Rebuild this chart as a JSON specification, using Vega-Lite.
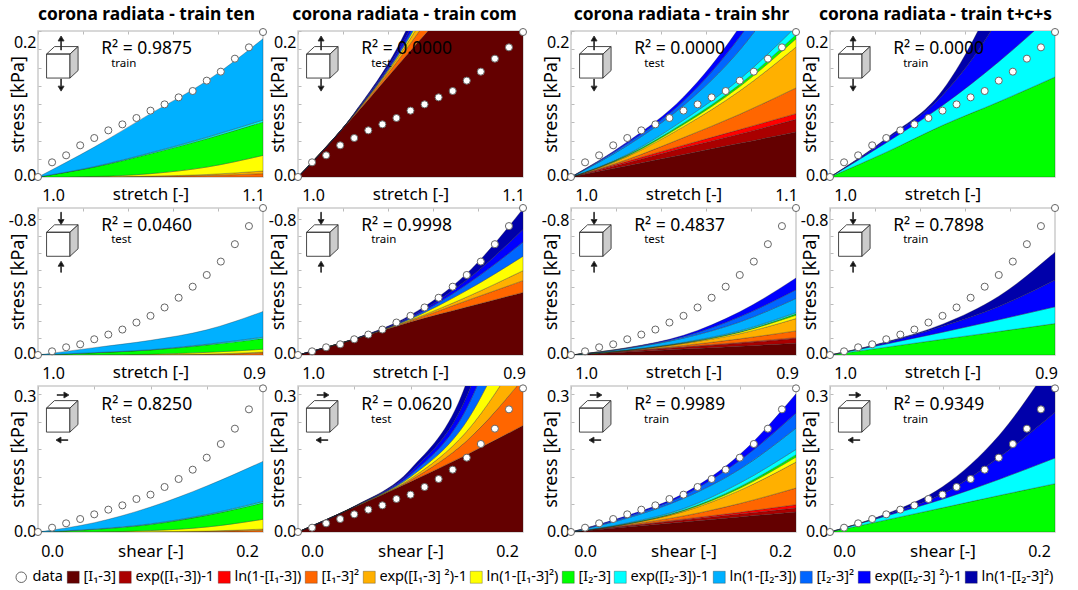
{"$schema":"https://vega.github.io/schema/vega-lite/v6.json","padding":{"left":7,"top":5,"right":0,"bottom":0},"background":"white","bounds":"flush","columns":7,"spacing":{"row":31,"column":0},
"config":{"font":"Noto Sans","view":{"stroke":"#cccccc","strokeWidth":1.5},"title":{"fontSize":17.4,"fontWeight":"bold","offset":3,"color":"black"},
"axis":{"grid":false,"domain":false,"tickCount":30,"labelFontSize":16,"titleFontWeight":"normal","labelColor":"black","titleColor":"black","tickColor":"#bbbbbb","labelOverlap":false,"labelFlush":false,"labelBound":false},
"axisX":{"ticks":false,"labelPadding":10,"titleFontSize":17,"titleY":17,"titleBaseline":"middle"},"axisY":{"tickSize":-3,"labelPadding":5,"titleFontSize":18,"titleX":-11},
"area":{"interpolate":"monotone","stroke":"#222222","strokeWidth":0.5,"strokeOpacity":0.6},"point":{"filled":true,"fill":"white","size":50,"strokeWidth":1,"opacity":1},
"style":{"r2":{"fontSize":17.5,"align":"left","baseline":"middle"},"sub":{"fontSize":11.5,"align":"left","baseline":"middle"}},
"range":{"ordinal":["#640000","#aa0000","#ff0000","#ff6600","#ffb000","#ffff00","#00ff00","#00ffff","#00b0ff","#0066ff","#0000ff","#0000aa"],"category":["#ffffff","#111111","#111111","#cccccc","#111111"],
"symbol":["M-0.47,-0.364L0.24,-0.364L0.24,0.364L-0.47,0.364ZM-0.47,-0.364L-0.227,-0.59L0.485,-0.59L0.24,-0.364Z","M-0.03,-0.6L0.06,-0.75L-0.02,-0.75L-0.02,-0.97L-0.04,-0.97L-0.04,-0.75L-0.12,-0.75ZM-0.03,0.515L0.06,0.665L-0.02,0.665L-0.02,0.85L-0.04,0.85L-0.04,0.665L-0.12,0.665Z","M0.21,-0.76L0.06,-0.85L0.06,-0.77L-0.15,-0.77L-0.15,-0.75L0.06,-0.75L0.06,-0.67ZM-0.18,0.606L-0.03,0.516L-0.03,0.596L0.18,0.596L0.18,0.616L-0.03,0.616L-0.03,0.696Z","M0.24,-0.364L0.485,-0.59L0.485,0.136L0.24,0.364Z","M-0.03,-0.91L0.06,-0.76L-0.02,-0.76L-0.02,-0.485L-0.04,-0.485L-0.04,-0.76L-0.12,-0.76ZM-0.03,0.76L0.06,0.61L-0.02,0.61L-0.02,0.394L-0.04,0.394L-0.04,0.61L-0.12,0.61Z"]}},
"datasets":{
"ten":[{"x":1,"y":0},{"x":1.00625,"y":0.0201},{"x":1.0125,"y":0.0297},{"x":1.01875,"y":0.0434},{"x":1.025,"y":0.0534},{"x":1.03125,"y":0.0639},{"x":1.0375,"y":0.0721},{"x":1.04375,"y":0.0808},{"x":1.05,"y":0.0909},{"x":1.05625,"y":0.0995},{"x":1.0625,"y":0.1091},{"x":1.06875,"y":0.1178},{"x":1.075,"y":0.132},{"x":1.08125,"y":0.1443},{"x":1.0875,"y":0.1621},{"x":1.09375,"y":0.1776},{"x":1.1,"y":0.1986}],
"com":[{"x":1,"y":0},{"x":0.99375,"y":-0.0217},{"x":0.9875,"y":-0.0454},{"x":0.98125,"y":-0.0632},{"x":0.975,"y":-0.0928},{"x":0.96875,"y":-0.1205},{"x":0.9625,"y":-0.1501},{"x":0.95625,"y":-0.1916},{"x":0.95,"y":-0.2311},{"x":0.94375,"y":-0.2805},{"x":0.9375,"y":-0.3378},{"x":0.93125,"y":-0.403},{"x":0.925,"y":-0.4721},{"x":0.91875,"y":-0.5511},{"x":0.9125,"y":-0.6538},{"x":0.90625,"y":-0.7605},{"x":0.9,"y":-0.8672}],
"shr":[{"x":0,"y":0},{"x":0.0125,"y":0.0094},{"x":0.025,"y":0.0189},{"x":0.0375,"y":0.0283},{"x":0.05,"y":0.0385},{"x":0.0625,"y":0.0487},{"x":0.075,"y":0.0581},{"x":0.0875,"y":0.0719},{"x":0.1,"y":0.0814},{"x":0.1125,"y":0.0981},{"x":0.125,"y":0.1155},{"x":0.1375,"y":0.1358},{"x":0.15,"y":0.162},{"x":0.1625,"y":0.1918},{"x":0.175,"y":0.2252},{"x":0.1875,"y":0.2673},{"x":0.2,"y":0.3131}],
"p11":[{"x":1,"T04":0,"T05":0,"T06":0,"T07":0,"T08":0,"T09":0},{"x":1.025,"T04":0.0002,"T05":0,"T06":0.0006,"T07":0.0128,"T08":0.0006,"T09":0.0268},{"x":1.05,"T04":0.0008,"T05":0.0004,"T06":0.0034,"T07":0.0274,"T08":0.0012,"T09":0.0536},{"x":1.075,"T04":0.002,"T05":0.0014,"T06":0.0102,"T07":0.0388,"T08":0.002,"T09":0.0772},{"x":1.1,"T04":0.0046,"T05":0.0036,"T06":0.0214,"T07":0.0458,"T08":0.0026,"T09":0.1114}],
"p12":[{"x":1,"T01":0,"T04":0,"T05":0,"T06":0,"T10":0,"T11":0,"T12":0},{"x":1.025,"T01":0.084,"T04":0.001,"T05":0.0006,"T06":0.0004,"T10":0.0004,"T11":0.0004,"T12":0.0008},{"x":1.05,"T01":0.173,"T04":0.01,"T05":0.007,"T06":0.004,"T10":0.004,"T11":0.006,"T12":0.01},{"x":1.075,"T01":0.26,"T04":0.04,"T05":0.03,"T06":0.02,"T10":0.02,"T11":0.024,"T12":0.04},{"x":1.1,"T01":0.35,"T04":0.1,"T05":0.08,"T06":0.06,"T10":0.06,"T11":0.06,"T12":0.1}],
"p13":[{"x":1,"T01":0,"T02":0,"T03":0,"T04":0,"T05":0,"T06":0,"T07":0,"T08":0,"T09":0,"T10":0,"T11":0},{"x":1.025,"T01":0.0154,"T02":0.0042,"T03":0.002,"T04":0.0024,"T05":0.004,"T06":0.001,"T07":0.001,"T08":0.001,"T09":0.012,"T10":0.003,"T11":0.002},{"x":1.05,"T01":0.0308,"T02":0.0092,"T03":0.0036,"T04":0.0104,"T05":0.015,"T06":0.003,"T07":0.002,"T08":0.004,"T09":0.02,"T10":0.006,"T11":0.0056},{"x":1.075,"T01":0.0462,"T02":0.0128,"T03":0.006,"T04":0.021,"T05":0.032,"T06":0.006,"T07":0.003,"T08":0.007,"T09":0.04,"T10":0.018,"T11":0.014},{"x":1.1,"T01":0.0616,"T02":0.0174,"T03":0.0078,"T04":0.0352,"T05":0.056,"T06":0.0114,"T07":0.0056,"T08":0.011,"T09":0.074,"T10":0.03,"T11":0.03}],
"p14":[{"x":1,"T07":0,"T08":0,"T11":0,"T12":0},{"x":1.025,"T07":0.034,"T08":0.013,"T11":0.004,"T12":0.002},{"x":1.05,"T07":0.0708,"T08":0.0272,"T11":0.014,"T12":0.0068},{"x":1.075,"T07":0.103,"T08":0.055,"T11":0.06,"T12":0.042},{"x":1.1,"T07":0.137,"T08":0.089,"T11":0.154,"T12":0.08}],
"p21":[{"x":1,"T04":0,"T05":0,"T06":0,"T07":0,"T08":0,"T09":0},{"x":0.975,"T04":0,"T05":0,"T06":-0.0009,"T07":-0.0121,"T08":-0.0009,"T09":-0.0295},{"x":0.95,"T04":-0.0009,"T05":-0.0009,"T06":-0.0026,"T07":-0.0251,"T08":-0.0017,"T09":-0.0555},{"x":0.925,"T04":-0.0026,"T05":-0.0026,"T06":-0.0104,"T07":-0.0434,"T08":-0.0043,"T09":-0.085},{"x":0.9,"T04":-0.0121,"T05":-0.0052,"T06":-0.0165,"T07":-0.0633,"T08":-0.0078,"T09":-0.1517}],
"p22":[{"x":1,"T01":0,"T04":0,"T05":0,"T06":0,"T10":0,"T11":0,"T12":0},{"x":0.975,"T01":-0.0928,"T04":-0.0004,"T05":-0.0004,"T06":-0.0004,"T10":-0.0004,"T11":-0.0004,"T12":-0.0004},{"x":0.95,"T01":-0.1951,"T04":-0.0061,"T05":-0.0052,"T06":-0.0061,"T10":-0.0061,"T11":-0.0069,"T12":-0.0104},{"x":0.925,"T01":-0.2826,"T04":-0.0381,"T05":-0.0217,"T06":-0.039,"T10":-0.0347,"T11":-0.026,"T12":-0.039},{"x":0.9,"T01":-0.3693,"T04":-0.0694,"T05":-0.059,"T06":-0.085,"T10":-0.0832,"T11":-0.0746,"T12":-0.1222}],
"p23":[{"x":1,"T01":0,"T02":0,"T03":0,"T04":0,"T05":0,"T06":0,"T07":0,"T08":0,"T09":0,"T10":0,"T11":0},{"x":0.975,"T01":-0.0173,"T02":-0.0052,"T03":-0.0017,"T04":-0.0017,"T05":-0.0017,"T06":-0.0009,"T07":-0.0009,"T08":-0.0009,"T09":-0.0087,"T10":-0.0026,"T11":-0.0017},{"x":0.95,"T01":-0.0347,"T02":-0.0113,"T03":-0.0026,"T04":-0.0078,"T05":-0.0113,"T06":-0.0026,"T07":-0.0017,"T08":-0.0026,"T09":-0.0251,"T10":-0.0087,"T11":-0.0078},{"x":0.925,"T01":-0.052,"T02":-0.0173,"T03":-0.0043,"T04":-0.0217,"T05":-0.0303,"T06":-0.0087,"T07":-0.0026,"T08":-0.0061,"T09":-0.052,"T10":-0.0303,"T11":-0.0295},{"x":0.9,"T01":-0.0694,"T02":-0.0277,"T03":-0.0052,"T04":-0.0399,"T05":-0.0728,"T06":-0.0199,"T07":-0.0078,"T08":-0.0078,"T09":-0.0832,"T10":-0.0512,"T11":-0.0694}],
"p24":[{"x":1,"T07":0,"T08":0,"T11":0,"T12":0},{"x":0.975,"T07":-0.046,"T08":-0.0191,"T11":-0.0087,"T12":-0.0043},{"x":0.95,"T07":-0.0928,"T08":-0.0416,"T11":-0.0347,"T12":-0.013},{"x":0.925,"T07":-0.1387,"T08":-0.0694,"T11":-0.078,"T12":-0.0607},{"x":0.9,"T07":-0.1855,"T08":-0.0988,"T11":-0.1578,"T12":-0.1647}],
"p31":[{"x":0,"T04":0,"T05":0,"T06":0,"T07":0,"T08":0,"T09":0},{"x":0.05,"T04":0,"T05":0,"T06":0.0003,"T07":0.0054,"T08":0.0006,"T09":0.014},{"x":0.1,"T04":0.0003,"T05":0.0003,"T06":0.0025,"T07":0.0134,"T08":0.0013,"T09":0.0366},{"x":0.15,"T04":0.001,"T05":0.001,"T06":0.0089,"T07":0.0254,"T08":0.0019,"T09":0.062},{"x":0.2,"T04":0.0035,"T05":0.0029,"T06":0.0213,"T07":0.0359,"T08":0.0032,"T09":0.0871}],
"p32":[{"x":0,"T01":0,"T04":0,"T05":0,"T06":0,"T10":0,"T11":0,"T12":0},{"x":0.05,"T01":0.0541,"T04":0.0003,"T05":0.0003,"T06":0.0003,"T10":0.0003,"T11":0.0003,"T12":0.0003},{"x":0.1,"T01":0.1097,"T04":0.0032,"T05":0.0032,"T06":0.0041,"T10":0.0048,"T11":0.0054,"T12":0.0064},{"x":0.15,"T01":0.1685,"T04":0.0302,"T05":0.0207,"T06":0.0223,"T10":0.0286,"T11":0.0254,"T12":0.0318},{"x":0.2,"T01":0.2321,"T04":0.1018,"T05":0.0636,"T06":0.0954,"T10":0.1113,"T11":0.0954,"T12":0.1272}],
"p33":[{"x":0,"T01":0,"T02":0,"T03":0,"T04":0,"T05":0,"T06":0,"T07":0,"T08":0,"T09":0,"T10":0,"T11":0},{"x":0.05,"T01":0.0108,"T02":0.0022,"T03":0.001,"T04":0.0019,"T05":0.0016,"T06":0.0003,"T07":0.0006,"T08":0.0013,"T09":0.0105,"T10":0.0032,"T11":0.0025},{"x":0.1,"T01":0.0216,"T02":0.0045,"T03":0.0019,"T04":0.007,"T05":0.0095,"T06":0.0019,"T07":0.0013,"T08":0.0032,"T09":0.0223,"T10":0.0064,"T11":0.0041},{"x":0.15,"T01":0.0328,"T02":0.0064,"T03":0.0038,"T04":0.0191,"T05":0.0286,"T06":0.0048,"T07":0.0032,"T08":0.008,"T09":0.0302,"T10":0.0191,"T11":0.0127},{"x":0.2,"T01":0.0436,"T02":0.0086,"T03":0.0073,"T04":0.0363,"T05":0.0566,"T06":0.0111,"T07":0.0051,"T08":0.0114,"T09":0.0464,"T10":0.0328,"T11":0.042}],
"p34":[{"x":0,"T07":0,"T08":0,"T11":0,"T12":0},{"x":0.05,"T07":0.0264,"T08":0.0086,"T11":0.0025,"T12":0.0022},{"x":0.1,"T07":0.0528,"T08":0.0188,"T11":0.0111,"T12":0.0159},{"x":0.15,"T07":0.0795,"T08":0.035,"T11":0.0477,"T12":0.0477},{"x":0.2,"T07":0.1053,"T08":0.056,"T11":0.0995,"T12":0.1208}],
"gap":[]},
"concat":[
{"title":{"text":"corona radiata - train ten","dx":-4},"width":225,"height":146,"data":{"values":[{"r2":"R²  = 0.9875","set":"train"}]},"resolve":{"axis":{"x":"independent"}},"layer":[
{"data":{"name":"p11"},"transform":[{"fold":["T04","T05","T06","T07","T08","T09"],"as":["k","v"]}],"mark":{"type":"area","clip":true},"encoding":{"x":{"field":"x","type":"quantitative","scale":{"domain":[1,1.1],"nice":false},"axis":{"title":"stretch [-]","values":[1,1.02,1.04,1.06,1.08,1.1],"labelExpr":"datum.index%1==0?format(datum.value,'.1f'):''","labelOffset":{"condition":{"test":"datum.index==0","value":15},"value":-10}}},"y":{"field":"v","type":"quantitative","stack":"zero","scale":{"domain":[0,0.2],"nice":false},"axis":{"title":"stress [kPa]","values":[0,0.025,0.05,0.075,0.1,0.125,0.15,0.175,0.2],"labelExpr":"datum.index%1==0?format(datum.value,'.1f'):''","labelOffset":{"condition":{"test":"datum.index==0","value":-2},"value":11}}},"color":{"field":"k","type":"ordinal","legend":{"orient":"none","legendX":28,"legendY":539,"direction":"horizontal","columns":12,"title":null,"gridAlign":"none","columnPadding":2,"symbolType":"square","symbolSize":144,"labelFontSize":14.5,"labelOffset":3,"labelLimit":200,"labelExpr":"{'T01':'[I₁-3]','T02':'exp([I₁-3])-1','T03':'ln(1-[I₁-3])','T04':'[I₁-3]²','T05':'exp([I₁-3] ²)-1','T06':'ln(1-[I₁-3]²)','T07':'[I₂-3]','T08':'exp([I₂-3])-1','T09':'ln(1-[I₂-3])','T10':'[I₂-3]²','T11':'exp([I₂-3] ²)-1','T12':'ln(1-[I₂-3]²)'}[datum.label]"}},"order":{"field":"k"}}},
{"data":{"name":"ten"},"mark":"point","encoding":{"x":{"field":"x","type":"quantitative","axis":{"orient":"top","title":null,"labels":false,"ticks":true,"tickSize":-3,"values":[1,1.02,1.04,1.06,1.08,1.1]}},"y":{"field":"y","type":"quantitative"},"stroke":{"datum":"data","type":"nominal","scale":{"range":["#666666"]},"legend":{"orient":"none","legendX":-24,"legendY":539,"title":null,"symbolType":"circle","symbolSize":110,"symbolFillColor":"white","symbolStrokeColor":"#333333","symbolStrokeWidth":1.5,"labelFontSize":14.5,"labelOffset":4}}}},
{"mark":{"type":"text","style":"r2"},"encoding":{"x":{"datum":1.0281,"type":"quantitative","axis":null},"y":{"datum":0.1753,"type":"quantitative"},"text":{"field":"r2"}}},
{"mark":{"type":"text","style":"sub"},"encoding":{"x":{"datum":1.0325,"type":"quantitative","axis":null},"y":{"datum":0.1548,"type":"quantitative"},"text":{"field":"set"}}},
{"data":{"values":[{"part":"box"},{"part":"side"},{"part":"ten"}]},"mark":{"type":"point","size":4356,"stroke":"#333333","strokeWidth":0.9},"encoding":{"x":{"datum":1.0107,"type":"quantitative","axis":null},"y":{"datum":0.152,"type":"quantitative"},"shape":{"field":"part","legend":null},"fill":{"field":"part","legend":null}}}]},
{"width":35,"height":146,"data":{"name":"gap"},"mark":"point","encoding":{},"view":{"stroke":null}},
{"title":{"text":"corona radiata - train com","dx":-6},"width":225,"height":146,"data":{"values":[{"r2":"R²  = 0.0000","set":"test"}]},"resolve":{"axis":{"x":"independent"}},"layer":[
{"data":{"name":"p12"},"transform":[{"fold":["T01","T04","T05","T06","T10","T11","T12"],"as":["k","v"]}],"mark":{"type":"area","clip":true},"encoding":{"x":{"field":"x","type":"quantitative","scale":{"domain":[1,1.1],"nice":false},"axis":{"title":"stretch [-]","values":[1,1.02,1.04,1.06,1.08,1.1],"labelExpr":"datum.index%1==0?format(datum.value,'.1f'):''","labelOffset":{"condition":{"test":"datum.index==0","value":15},"value":-10}}},"y":{"field":"v","type":"quantitative","stack":"zero","scale":{"domain":[0,0.2],"nice":false},"axis":{"title":"stress [kPa]","values":[0,0.025,0.05,0.075,0.1,0.125,0.15,0.175,0.2],"labelExpr":"datum.index%1==0?format(datum.value,'.1f'):''","labelOffset":{"condition":{"test":"datum.index==0","value":-2},"value":11}}},"color":{"field":"k","type":"ordinal"},"order":{"field":"k"}}},
{"data":{"name":"ten"},"mark":"point","encoding":{"x":{"field":"x","type":"quantitative","axis":{"orient":"top","title":null,"labels":false,"ticks":true,"tickSize":-3,"values":[1,1.02,1.04,1.06,1.08,1.1]}},"y":{"field":"y","type":"quantitative"},"stroke":{"datum":"data","type":"nominal","scale":{"range":["#666666"]}}}},
{"mark":{"type":"text","style":"r2"},"encoding":{"x":{"datum":1.0281,"type":"quantitative","axis":null},"y":{"datum":0.1753,"type":"quantitative"},"text":{"field":"r2"}}},
{"mark":{"type":"text","style":"sub"},"encoding":{"x":{"datum":1.0325,"type":"quantitative","axis":null},"y":{"datum":0.1548,"type":"quantitative"},"text":{"field":"set"}}},
{"data":{"values":[{"part":"box"},{"part":"side"},{"part":"ten"}]},"mark":{"type":"point","size":4356,"stroke":"#333333","strokeWidth":0.9},"encoding":{"x":{"datum":1.0107,"type":"quantitative","axis":null},"y":{"datum":0.152,"type":"quantitative"},"shape":{"field":"part","legend":null},"fill":{"field":"part","legend":null}}}]},
{"width":48,"height":146,"data":{"name":"gap"},"mark":"point","encoding":{},"view":{"stroke":null}},
{"title":{"text":"corona radiata - train shr","dx":-2},"width":225,"height":146,"data":{"values":[{"r2":"R²  = 0.0000","set":"test"}]},"resolve":{"axis":{"x":"independent"}},"layer":[
{"data":{"name":"p13"},"transform":[{"fold":["T01","T02","T03","T04","T05","T06","T07","T08","T09","T10","T11"],"as":["k","v"]}],"mark":{"type":"area","clip":true},"encoding":{"x":{"field":"x","type":"quantitative","scale":{"domain":[1,1.1],"nice":false},"axis":{"title":"stretch [-]","values":[1,1.02,1.04,1.06,1.08,1.1],"labelExpr":"datum.index%1==0?format(datum.value,'.1f'):''","labelOffset":{"condition":{"test":"datum.index==0","value":15},"value":-10}}},"y":{"field":"v","type":"quantitative","stack":"zero","scale":{"domain":[0,0.2],"nice":false},"axis":{"title":"stress [kPa]","values":[0,0.025,0.05,0.075,0.1,0.125,0.15,0.175,0.2],"labelExpr":"datum.index%1==0?format(datum.value,'.1f'):''","labelOffset":{"condition":{"test":"datum.index==0","value":-2},"value":11}}},"color":{"field":"k","type":"ordinal"},"order":{"field":"k"}}},
{"data":{"name":"ten"},"mark":"point","encoding":{"x":{"field":"x","type":"quantitative","axis":{"orient":"top","title":null,"labels":false,"ticks":true,"tickSize":-3,"values":[1,1.02,1.04,1.06,1.08,1.1]}},"y":{"field":"y","type":"quantitative"},"stroke":{"datum":"data","type":"nominal","scale":{"range":["#666666"]}}}},
{"mark":{"type":"text","style":"r2"},"encoding":{"x":{"datum":1.0281,"type":"quantitative","axis":null},"y":{"datum":0.1753,"type":"quantitative"},"text":{"field":"r2"}}},
{"mark":{"type":"text","style":"sub"},"encoding":{"x":{"datum":1.0325,"type":"quantitative","axis":null},"y":{"datum":0.1548,"type":"quantitative"},"text":{"field":"set"}}},
{"data":{"values":[{"part":"box"},{"part":"side"},{"part":"ten"}]},"mark":{"type":"point","size":4356,"stroke":"#333333","strokeWidth":0.9},"encoding":{"x":{"datum":1.0107,"type":"quantitative","axis":null},"y":{"datum":0.152,"type":"quantitative"},"shape":{"field":"part","legend":null},"fill":{"field":"part","legend":null}}}]},
{"width":34,"height":146,"data":{"name":"gap"},"mark":"point","encoding":{},"view":{"stroke":null}},
{"title":{"text":"corona radiata - train t+c+s","dx":-7},"width":225,"height":146,"data":{"values":[{"r2":"R²  = 0.0000","set":"train"}]},"resolve":{"axis":{"x":"independent"}},"layer":[
{"data":{"name":"p14"},"transform":[{"fold":["T07","T08","T11","T12"],"as":["k","v"]}],"mark":{"type":"area","clip":true},"encoding":{"x":{"field":"x","type":"quantitative","scale":{"domain":[1,1.1],"nice":false},"axis":{"title":"stretch [-]","values":[1,1.02,1.04,1.06,1.08,1.1],"labelExpr":"datum.index==0?format(datum.value,'.1f'):''","labelOffset":{"condition":{"test":"datum.index==0","value":15},"value":-10}}},"y":{"field":"v","type":"quantitative","stack":"zero","scale":{"domain":[0,0.2],"nice":false},"axis":{"title":"stress [kPa]","values":[0,0.025,0.05,0.075,0.1,0.125,0.15,0.175,0.2],"labelExpr":"datum.index%1==0?format(datum.value,'.1f'):''","labelOffset":{"condition":{"test":"datum.index==0","value":-2},"value":11}}},"color":{"field":"k","type":"ordinal"},"order":{"field":"k"}}},
{"data":{"name":"ten"},"mark":"point","encoding":{"x":{"field":"x","type":"quantitative","axis":{"orient":"top","title":null,"labels":false,"ticks":true,"tickSize":-3,"values":[1,1.02,1.04,1.06,1.08,1.1]}},"y":{"field":"y","type":"quantitative"},"stroke":{"datum":"data","type":"nominal","scale":{"range":["#666666"]}}}},
{"mark":{"type":"text","style":"r2"},"encoding":{"x":{"datum":1.0281,"type":"quantitative","axis":null},"y":{"datum":0.1753,"type":"quantitative"},"text":{"field":"r2"}}},
{"mark":{"type":"text","style":"sub"},"encoding":{"x":{"datum":1.0325,"type":"quantitative","axis":null},"y":{"datum":0.1548,"type":"quantitative"},"text":{"field":"set"}}},
{"data":{"values":[{"part":"box"},{"part":"side"},{"part":"ten"}]},"mark":{"type":"point","size":4356,"stroke":"#333333","strokeWidth":0.9},"encoding":{"x":{"datum":1.0107,"type":"quantitative","axis":null},"y":{"datum":0.152,"type":"quantitative"},"shape":{"field":"part","legend":null},"fill":{"field":"part","legend":null}}}]},
{"width":225,"height":147,"data":{"values":[{"r2":"R²  = 0.0460","set":"test"}]},"resolve":{"axis":{"x":"independent"}},"layer":[
{"data":{"name":"p21"},"transform":[{"fold":["T04","T05","T06","T07","T08","T09"],"as":["k","v"]}],"mark":{"type":"area","clip":true},"encoding":{"x":{"field":"x","type":"quantitative","scale":{"domain":[1,0.9],"nice":false},"axis":{"title":"stretch [-]","values":[1,0.98,0.96,0.94,0.92,0.9],"labelExpr":"datum.index%1==0?format(datum.value,'.1f'):''","labelOffset":{"condition":{"test":"datum.index==0","value":15},"value":-9}}},"y":{"field":"v","type":"quantitative","stack":"zero","scale":{"domain":[0,-0.8672],"nice":false},"axis":{"title":"stress [kPa]","values":[0,-0.1,-0.2,-0.3,-0.4,-0.5,-0.6,-0.7,-0.8],"labelExpr":"datum.value==0?'0.0':datum.index==1?'-0.8':''","labelOffset":{"condition":{"test":"datum.value==0","value":-2},"value":1}}},"color":{"field":"k","type":"ordinal"},"order":{"field":"k"}}},
{"data":{"name":"com"},"mark":"point","encoding":{"x":{"field":"x","type":"quantitative","axis":{"orient":"top","title":null,"labels":false,"ticks":true,"tickSize":-3,"values":[1,0.98,0.96,0.94,0.92,0.9]}},"y":{"field":"y","type":"quantitative"},"stroke":{"datum":"data","type":"nominal","scale":{"range":["#666666"]}}}},
{"mark":{"type":"text","style":"r2"},"encoding":{"x":{"datum":0.9719,"type":"quantitative","axis":null},"y":{"datum":-0.76,"type":"quantitative"},"text":{"field":"r2"}}},
{"mark":{"type":"text","style":"sub"},"encoding":{"x":{"datum":0.9675,"type":"quantitative","axis":null},"y":{"datum":-0.678,"type":"quantitative"},"text":{"field":"set"}}},
{"data":{"values":[{"part":"box"},{"part":"side"},{"part":"com"}]},"mark":{"type":"point","size":4356,"stroke":"#333333","strokeWidth":0.9},"encoding":{"x":{"datum":0.9893,"type":"quantitative","axis":null},"y":{"datum":-0.6532,"type":"quantitative"},"shape":{"field":"part","legend":null},"fill":{"field":"part","legend":null}}}]},
{"width":35,"height":147,"data":{"name":"gap"},"mark":"point","encoding":{},"view":{"stroke":null}},
{"width":225,"height":147,"data":{"values":[{"r2":"R²  = 0.9998","set":"train"}]},"resolve":{"axis":{"x":"independent"}},"layer":[
{"data":{"name":"p22"},"transform":[{"fold":["T01","T04","T05","T06","T10","T11","T12"],"as":["k","v"]}],"mark":{"type":"area","clip":true},"encoding":{"x":{"field":"x","type":"quantitative","scale":{"domain":[1,0.9],"nice":false},"axis":{"title":"stretch [-]","values":[1,0.98,0.96,0.94,0.92,0.9],"labelExpr":"datum.index%1==0?format(datum.value,'.1f'):''","labelOffset":{"condition":{"test":"datum.index==0","value":15},"value":-9}}},"y":{"field":"v","type":"quantitative","stack":"zero","scale":{"domain":[0,-0.8672],"nice":false},"axis":{"title":"stress [kPa]","values":[0,-0.1,-0.2,-0.3,-0.4,-0.5,-0.6,-0.7,-0.8],"labelExpr":"datum.value==0?'0.0':datum.index==1?'-0.8':''","labelOffset":{"condition":{"test":"datum.value==0","value":-2},"value":1}}},"color":{"field":"k","type":"ordinal"},"order":{"field":"k"}}},
{"data":{"name":"com"},"mark":"point","encoding":{"x":{"field":"x","type":"quantitative","axis":{"orient":"top","title":null,"labels":false,"ticks":true,"tickSize":-3,"values":[1,0.98,0.96,0.94,0.92,0.9]}},"y":{"field":"y","type":"quantitative"},"stroke":{"datum":"data","type":"nominal","scale":{"range":["#666666"]}}}},
{"mark":{"type":"text","style":"r2"},"encoding":{"x":{"datum":0.9719,"type":"quantitative","axis":null},"y":{"datum":-0.76,"type":"quantitative"},"text":{"field":"r2"}}},
{"mark":{"type":"text","style":"sub"},"encoding":{"x":{"datum":0.9675,"type":"quantitative","axis":null},"y":{"datum":-0.678,"type":"quantitative"},"text":{"field":"set"}}},
{"data":{"values":[{"part":"box"},{"part":"side"},{"part":"com"}]},"mark":{"type":"point","size":4356,"stroke":"#333333","strokeWidth":0.9},"encoding":{"x":{"datum":0.9893,"type":"quantitative","axis":null},"y":{"datum":-0.6532,"type":"quantitative"},"shape":{"field":"part","legend":null},"fill":{"field":"part","legend":null}}}]},
{"width":48,"height":147,"data":{"name":"gap"},"mark":"point","encoding":{},"view":{"stroke":null}},
{"width":225,"height":147,"data":{"values":[{"r2":"R²  = 0.4837","set":"test"}]},"resolve":{"axis":{"x":"independent"}},"layer":[
{"data":{"name":"p23"},"transform":[{"fold":["T01","T02","T03","T04","T05","T06","T07","T08","T09","T10","T11"],"as":["k","v"]}],"mark":{"type":"area","clip":true},"encoding":{"x":{"field":"x","type":"quantitative","scale":{"domain":[1,0.9],"nice":false},"axis":{"title":"stretch [-]","values":[1,0.98,0.96,0.94,0.92,0.9],"labelExpr":"datum.index%1==0?format(datum.value,'.1f'):''","labelOffset":{"condition":{"test":"datum.index==0","value":15},"value":-9}}},"y":{"field":"v","type":"quantitative","stack":"zero","scale":{"domain":[0,-0.8672],"nice":false},"axis":{"title":"stress [kPa]","values":[0,-0.1,-0.2,-0.3,-0.4,-0.5,-0.6,-0.7,-0.8],"labelExpr":"datum.value==0?'0.0':datum.index==1?'-0.8':''","labelOffset":{"condition":{"test":"datum.value==0","value":-2},"value":1}}},"color":{"field":"k","type":"ordinal"},"order":{"field":"k"}}},
{"data":{"name":"com"},"mark":"point","encoding":{"x":{"field":"x","type":"quantitative","axis":{"orient":"top","title":null,"labels":false,"ticks":true,"tickSize":-3,"values":[1,0.98,0.96,0.94,0.92,0.9]}},"y":{"field":"y","type":"quantitative"},"stroke":{"datum":"data","type":"nominal","scale":{"range":["#666666"]}}}},
{"mark":{"type":"text","style":"r2"},"encoding":{"x":{"datum":0.9719,"type":"quantitative","axis":null},"y":{"datum":-0.76,"type":"quantitative"},"text":{"field":"r2"}}},
{"mark":{"type":"text","style":"sub"},"encoding":{"x":{"datum":0.9675,"type":"quantitative","axis":null},"y":{"datum":-0.678,"type":"quantitative"},"text":{"field":"set"}}},
{"data":{"values":[{"part":"box"},{"part":"side"},{"part":"com"}]},"mark":{"type":"point","size":4356,"stroke":"#333333","strokeWidth":0.9},"encoding":{"x":{"datum":0.9893,"type":"quantitative","axis":null},"y":{"datum":-0.6532,"type":"quantitative"},"shape":{"field":"part","legend":null},"fill":{"field":"part","legend":null}}}]},
{"width":34,"height":147,"data":{"name":"gap"},"mark":"point","encoding":{},"view":{"stroke":null}},
{"width":225,"height":147,"data":{"values":[{"r2":"R²  = 0.7898","set":"train"}]},"resolve":{"axis":{"x":"independent"}},"layer":[
{"data":{"name":"p24"},"transform":[{"fold":["T07","T08","T11","T12"],"as":["k","v"]}],"mark":{"type":"area","clip":true},"encoding":{"x":{"field":"x","type":"quantitative","scale":{"domain":[1,0.9],"nice":false},"axis":{"title":"stretch [-]","values":[1,0.98,0.96,0.94,0.92,0.9],"labelExpr":"datum.index%1==0?format(datum.value,'.1f'):''","labelOffset":{"condition":{"test":"datum.index==0","value":15},"value":-9}}},"y":{"field":"v","type":"quantitative","stack":"zero","scale":{"domain":[0,-0.8672],"nice":false},"axis":{"title":"stress [kPa]","values":[0,-0.1,-0.2,-0.3,-0.4,-0.5,-0.6,-0.7,-0.8],"labelExpr":"datum.value==0?'0.0':datum.index==1?'-0.8':''","labelOffset":{"condition":{"test":"datum.value==0","value":-2},"value":1}}},"color":{"field":"k","type":"ordinal"},"order":{"field":"k"}}},
{"data":{"name":"com"},"mark":"point","encoding":{"x":{"field":"x","type":"quantitative","axis":{"orient":"top","title":null,"labels":false,"ticks":true,"tickSize":-3,"values":[1,0.98,0.96,0.94,0.92,0.9]}},"y":{"field":"y","type":"quantitative"},"stroke":{"datum":"data","type":"nominal","scale":{"range":["#666666"]}}}},
{"mark":{"type":"text","style":"r2"},"encoding":{"x":{"datum":0.9719,"type":"quantitative","axis":null},"y":{"datum":-0.76,"type":"quantitative"},"text":{"field":"r2"}}},
{"mark":{"type":"text","style":"sub"},"encoding":{"x":{"datum":0.9675,"type":"quantitative","axis":null},"y":{"datum":-0.678,"type":"quantitative"},"text":{"field":"set"}}},
{"data":{"values":[{"part":"box"},{"part":"side"},{"part":"com"}]},"mark":{"type":"point","size":4356,"stroke":"#333333","strokeWidth":0.9},"encoding":{"x":{"datum":0.9893,"type":"quantitative","axis":null},"y":{"datum":-0.6532,"type":"quantitative"},"shape":{"field":"part","legend":null},"fill":{"field":"part","legend":null}}}]},
{"width":225,"height":146,"data":{"values":[{"r2":"R²  = 0.8250","set":"test"}]},"resolve":{"axis":{"x":"independent"}},"layer":[
{"data":{"name":"p31"},"transform":[{"fold":["T04","T05","T06","T07","T08","T09"],"as":["k","v"]}],"mark":{"type":"area","clip":true},"encoding":{"x":{"field":"x","type":"quantitative","scale":{"domain":[0,0.2],"nice":false},"axis":{"title":"shear [-]","values":[0,0.05,0.1,0.15,0.2],"labelExpr":"datum.index%1==0?format(datum.value,'.1f'):''","labelOffset":{"condition":{"test":"datum.index==0","value":14},"value":-16},"labelPadding":11,"titleY":19.5}},"y":{"field":"v","type":"quantitative","stack":"zero","scale":{"domain":[0,0.3182],"nice":false},"axis":{"title":"stress [kPa]","values":[0,0.06,0.12,0.18,0.24,0.3],"labelExpr":"datum.value==0||datum.value==0.3?format(datum.value,'.1f'):''","labelOffset":{"condition":{"test":"datum.value==0","value":-1},"value":2}}},"color":{"field":"k","type":"ordinal"},"order":{"field":"k"}}},
{"data":{"name":"shr"},"mark":"point","encoding":{"x":{"field":"x","type":"quantitative","axis":{"orient":"top","title":null,"labels":false,"ticks":true,"tickSize":-3,"values":[0,0.05,0.1,0.15,0.2]}},"y":{"field":"y","type":"quantitative"},"stroke":{"datum":"data","type":"nominal","scale":{"range":["#666666"]}}}},
{"mark":{"type":"text","style":"r2"},"encoding":{"x":{"datum":0.05625,"type":"quantitative","axis":null},"y":{"datum":0.2766,"type":"quantitative"},"text":{"field":"r2"}}},
{"mark":{"type":"text","style":"sub"},"encoding":{"x":{"datum":0.0649,"type":"quantitative","axis":null},"y":{"datum":0.2439,"type":"quantitative"},"text":{"field":"set"}}},
{"data":{"values":[{"part":"box"},{"part":"side"},{"part":"shr"}]},"mark":{"type":"point","size":4356,"stroke":"#333333","strokeWidth":0.9},"encoding":{"x":{"datum":0.0213,"type":"quantitative","axis":null},"y":{"datum":0.2439,"type":"quantitative"},"shape":{"field":"part","legend":null},"fill":{"field":"part","legend":null}}}]},
{"width":35,"height":146,"data":{"name":"gap"},"mark":"point","encoding":{},"view":{"stroke":null}},
{"width":225,"height":146,"data":{"values":[{"r2":"R²  = 0.0620","set":"test"}]},"resolve":{"axis":{"x":"independent"}},"layer":[
{"data":{"name":"p32"},"transform":[{"fold":["T01","T04","T05","T06","T10","T11","T12"],"as":["k","v"]}],"mark":{"type":"area","clip":true},"encoding":{"x":{"field":"x","type":"quantitative","scale":{"domain":[0,0.2],"nice":false},"axis":{"title":"shear [-]","values":[0,0.05,0.1,0.15,0.2],"labelExpr":"datum.index%1==0?format(datum.value,'.1f'):''","labelOffset":{"condition":{"test":"datum.index==0","value":14},"value":-16},"labelPadding":11,"titleY":19.5}},"y":{"field":"v","type":"quantitative","stack":"zero","scale":{"domain":[0,0.3182],"nice":false},"axis":{"title":"stress [kPa]","values":[0,0.06,0.12,0.18,0.24,0.3],"labelExpr":"datum.value==0||datum.value==0.3?format(datum.value,'.1f'):''","labelOffset":{"condition":{"test":"datum.value==0","value":-1},"value":2}}},"color":{"field":"k","type":"ordinal"},"order":{"field":"k"}}},
{"data":{"name":"shr"},"mark":"point","encoding":{"x":{"field":"x","type":"quantitative","axis":{"orient":"top","title":null,"labels":false,"ticks":true,"tickSize":-3,"values":[0,0.05,0.1,0.15,0.2]}},"y":{"field":"y","type":"quantitative"},"stroke":{"datum":"data","type":"nominal","scale":{"range":["#666666"]}}}},
{"mark":{"type":"text","style":"r2"},"encoding":{"x":{"datum":0.05625,"type":"quantitative","axis":null},"y":{"datum":0.2766,"type":"quantitative"},"text":{"field":"r2"}}},
{"mark":{"type":"text","style":"sub"},"encoding":{"x":{"datum":0.0649,"type":"quantitative","axis":null},"y":{"datum":0.2439,"type":"quantitative"},"text":{"field":"set"}}},
{"data":{"values":[{"part":"box"},{"part":"side"},{"part":"shr"}]},"mark":{"type":"point","size":4356,"stroke":"#333333","strokeWidth":0.9},"encoding":{"x":{"datum":0.0213,"type":"quantitative","axis":null},"y":{"datum":0.2439,"type":"quantitative"},"shape":{"field":"part","legend":null},"fill":{"field":"part","legend":null}}}]},
{"width":48,"height":146,"data":{"name":"gap"},"mark":"point","encoding":{},"view":{"stroke":null}},
{"width":225,"height":146,"data":{"values":[{"r2":"R²  = 0.9989","set":"train"}]},"resolve":{"axis":{"x":"independent"}},"layer":[
{"data":{"name":"p33"},"transform":[{"fold":["T01","T02","T03","T04","T05","T06","T07","T08","T09","T10","T11"],"as":["k","v"]}],"mark":{"type":"area","clip":true},"encoding":{"x":{"field":"x","type":"quantitative","scale":{"domain":[0,0.2],"nice":false},"axis":{"title":"shear [-]","values":[0,0.05,0.1,0.15,0.2],"labelExpr":"datum.index%1==0?format(datum.value,'.1f'):''","labelOffset":{"condition":{"test":"datum.index==0","value":14},"value":-16},"labelPadding":11,"titleY":19.5}},"y":{"field":"v","type":"quantitative","stack":"zero","scale":{"domain":[0,0.3182],"nice":false},"axis":{"title":"stress [kPa]","values":[0,0.06,0.12,0.18,0.24,0.3],"labelExpr":"datum.value==0||datum.value==0.3?format(datum.value,'.1f'):''","labelOffset":{"condition":{"test":"datum.value==0","value":-1},"value":2}}},"color":{"field":"k","type":"ordinal"},"order":{"field":"k"}}},
{"data":{"name":"shr"},"mark":"point","encoding":{"x":{"field":"x","type":"quantitative","axis":{"orient":"top","title":null,"labels":false,"ticks":true,"tickSize":-3,"values":[0,0.05,0.1,0.15,0.2]}},"y":{"field":"y","type":"quantitative"},"stroke":{"datum":"data","type":"nominal","scale":{"range":["#666666"]}}}},
{"mark":{"type":"text","style":"r2"},"encoding":{"x":{"datum":0.05625,"type":"quantitative","axis":null},"y":{"datum":0.2766,"type":"quantitative"},"text":{"field":"r2"}}},
{"mark":{"type":"text","style":"sub"},"encoding":{"x":{"datum":0.0649,"type":"quantitative","axis":null},"y":{"datum":0.2439,"type":"quantitative"},"text":{"field":"set"}}},
{"data":{"values":[{"part":"box"},{"part":"side"},{"part":"shr"}]},"mark":{"type":"point","size":4356,"stroke":"#333333","strokeWidth":0.9},"encoding":{"x":{"datum":0.0213,"type":"quantitative","axis":null},"y":{"datum":0.2439,"type":"quantitative"},"shape":{"field":"part","legend":null},"fill":{"field":"part","legend":null}}}]},
{"width":34,"height":146,"data":{"name":"gap"},"mark":"point","encoding":{},"view":{"stroke":null}},
{"width":225,"height":146,"data":{"values":[{"r2":"R²  = 0.9349","set":"train"}]},"resolve":{"axis":{"x":"independent"}},"layer":[
{"data":{"name":"p34"},"transform":[{"fold":["T07","T08","T11","T12"],"as":["k","v"]}],"mark":{"type":"area","clip":true},"encoding":{"x":{"field":"x","type":"quantitative","scale":{"domain":[0,0.2],"nice":false},"axis":{"title":"shear [-]","values":[0,0.05,0.1,0.15,0.2],"labelExpr":"datum.index%1==0?format(datum.value,'.1f'):''","labelOffset":{"condition":{"test":"datum.index==0","value":14},"value":-16},"labelPadding":11,"titleY":19.5}},"y":{"field":"v","type":"quantitative","stack":"zero","scale":{"domain":[0,0.3182],"nice":false},"axis":{"title":"stress [kPa]","values":[0,0.06,0.12,0.18,0.24,0.3],"labelExpr":"datum.value==0||datum.value==0.3?format(datum.value,'.1f'):''","labelOffset":{"condition":{"test":"datum.value==0","value":-1},"value":2}}},"color":{"field":"k","type":"ordinal"},"order":{"field":"k"}}},
{"data":{"name":"shr"},"mark":"point","encoding":{"x":{"field":"x","type":"quantitative","axis":{"orient":"top","title":null,"labels":false,"ticks":true,"tickSize":-3,"values":[0,0.05,0.1,0.15,0.2]}},"y":{"field":"y","type":"quantitative"},"stroke":{"datum":"data","type":"nominal","scale":{"range":["#666666"]}}}},
{"mark":{"type":"text","style":"r2"},"encoding":{"x":{"datum":0.05625,"type":"quantitative","axis":null},"y":{"datum":0.2766,"type":"quantitative"},"text":{"field":"r2"}}},
{"mark":{"type":"text","style":"sub"},"encoding":{"x":{"datum":0.0649,"type":"quantitative","axis":null},"y":{"datum":0.2439,"type":"quantitative"},"text":{"field":"set"}}},
{"data":{"values":[{"part":"box"},{"part":"side"},{"part":"shr"}]},"mark":{"type":"point","size":4356,"stroke":"#333333","strokeWidth":0.9},"encoding":{"x":{"datum":0.0213,"type":"quantitative","axis":null},"y":{"datum":0.2439,"type":"quantitative"},"shape":{"field":"part","legend":null},"fill":{"field":"part","legend":null}}}]}
]}
